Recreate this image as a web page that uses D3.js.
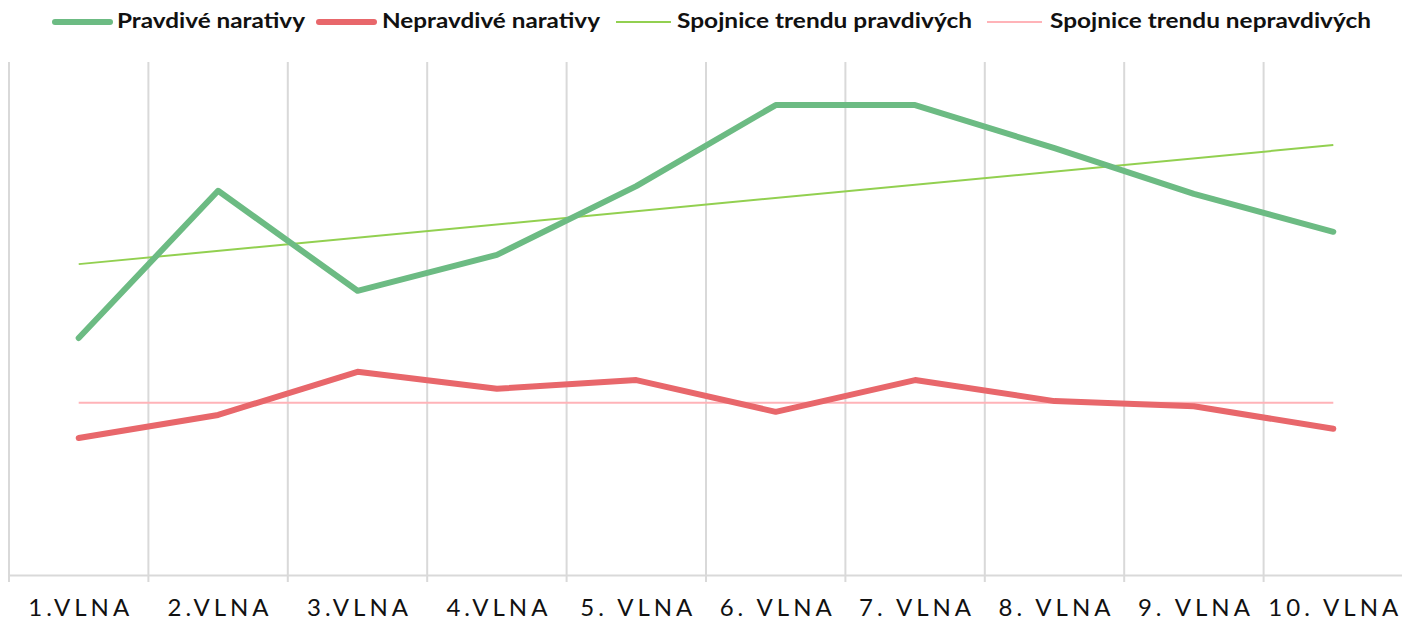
<!DOCTYPE html>
<html><head><meta charset="utf-8">
<script src="https://cdn.jsdelivr.net/npm/d3@7"></script>
<style>
html,body{margin:0;padding:0;background:#fff;}
svg{display:block;}
</style></head>
<body>
<svg id="chart" width="1402" height="621"></svg>
<script>
const categories = ["1.VLNA","2.VLNA","3.VLNA","4.VLNA","5. VLNA","6. VLNA","7. VLNA","8. VLNA","9. VLNA","10. VLNA"];
const pravdive = [46.2, 74.9, 55.4, 62.4, 75.8, 91.6, 91.6, 83.2, 74.3, 66.9];
const nepravdive = [26.7, 31.2, 39.6, 36.3, 38.0, 31.8, 38.0, 33.9, 32.9, 28.5];
const trendPravdive = [60.6, 83.8];     // trend line start/end (first & last wave)
const trendNepravdive = [33.6, 33.6];
const seriesNames = ["Pravdivé narativy","Nepravdivé narativy","Spojnice trendu pravdivých","Spojnice trendu nepravdivých"];

const svg = d3.select("#chart");
const W = 1402, H = 621;
const m = {left: 9, right: -1, top: 62, bottom: 46};
const x = d3.scaleBand().domain(categories).range([m.left, W - m.right]).paddingInner(0).paddingOuter(0);
const y = d3.scaleLinear().domain([0, 100]).range([H - m.bottom, m.top]);
const cx = d => x(d) + x.bandwidth() / 2;

// vertical gridlines at band boundaries
const bounds = categories.map(c => x(c)).concat([x(categories[categories.length-1]) + x.bandwidth()]);
svg.append("g").selectAll("line").data(bounds).join("line")
  .attr("x1", d => d).attr("x2", d => d)
  .attr("y1", y(100)).attr("y2", y(0) + 7)
  .attr("stroke", "#d9d9d9").attr("stroke-width", 2);

// x axis
const xAxis = svg.append("g").attr("transform", `translate(0,${y(0)})`)
  .call(d3.axisBottom(x).tickSize(0).tickPadding(23));
xAxis.select(".domain").attr("stroke", "#d9d9d9").attr("stroke-width", 2);
xAxis.selectAll("text")
  .attr("font-family", "Lato, 'Open Sans', sans-serif")
  .attr("font-size", 24).attr("fill", "#111")
  .attr("letter-spacing", "4px").attr("dx", 2).attr("dy", 0)
  .attr("dominant-baseline", "auto");
xAxis.selectAll(".tick text").attr("y", 41);

const line = d3.line().x((d, i) => cx(categories[i])).y(d => y(d));

// trend lines
const trendLine = d3.line().x((d, i) => cx(categories[i === 0 ? 0 : categories.length - 1])).y(d => y(d));
svg.append("path").datum(trendNepravdive).attr("d", trendLine)
  .attr("fill", "none").attr("stroke", "#ffb3b8").attr("stroke-width", 2);
svg.append("path").datum(trendPravdive).attr("d", trendLine)
  .attr("fill", "none").attr("stroke", "#92d050").attr("stroke-width", 2);

// main series
svg.append("path").datum(nepravdive).attr("d", line)
  .attr("fill", "none").attr("stroke", "#e8676b").attr("stroke-width", 6)
  .attr("stroke-linejoin", "round").attr("stroke-linecap", "round");
svg.append("path").datum(pravdive).attr("d", line)
  .attr("fill", "none").attr("stroke", "#6cbb83").attr("stroke-width", 6)
  .attr("stroke-linejoin", "round").attr("stroke-linecap", "round");

// legend
const legendItems = [
  {name: seriesNames[0], color: "#6cbb83", w: 6, sx: 55, tx: 117, tw: 188},
  {name: seriesNames[1], color: "#e8676b", w: 6, sx: 319, tx: 382, tw: 218},
  {name: seriesNames[2], color: "#92d050", w: 2, sx: 616, tx: 677, tw: 295},
  {name: seriesNames[3], color: "#ffb3b8", w: 2, sx: 987, tx: 1050, tw: 321}
];
const lg = svg.append("g");
legendItems.forEach(it => {
  lg.append("line").attr("x1", it.sx).attr("x2", it.sx + 55).attr("y1", 22).attr("y2", 22)
    .attr("stroke", it.color).attr("stroke-width", it.w).attr("stroke-linecap", it.w > 3 ? "round" : "butt");
  lg.append("text").attr("x", it.tx).attr("y", 28).text(it.name)
    .attr("font-family", "Lato, 'Open Sans', sans-serif").attr("font-weight", "bold")
    .attr("font-size", 20).attr("fill", "#111")
    .attr("textLength", it.tw).attr("lengthAdjust", "spacingAndGlyphs");
});
</script>
</body></html>
